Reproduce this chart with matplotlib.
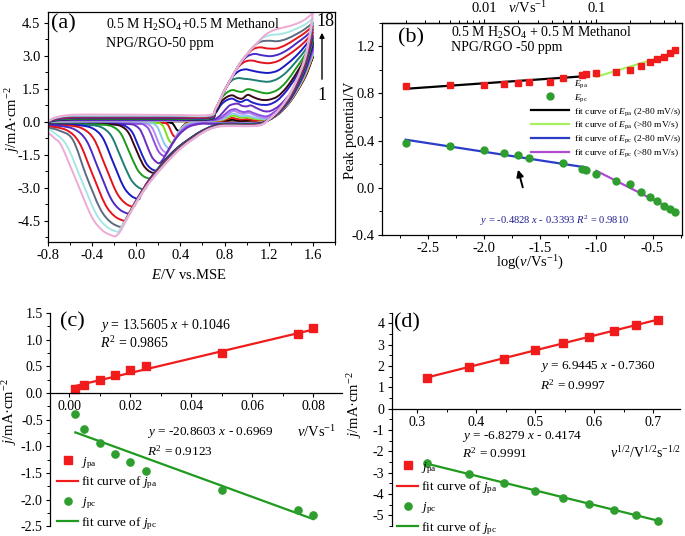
import numpy as np
import matplotlib
matplotlib.use("Agg")
import matplotlib.pyplot as plt
from matplotlib.path import Path
from matplotlib.patches import PathPatch
from matplotlib.ticker import MultipleLocator, FixedLocator, FixedFormatter, FormatStrFormatter

plt.rcParams.update({
    "font.family": ["Liberation Serif", "DejaVu Serif"],
    "mathtext.fontset": "custom",
    "mathtext.rm": "Liberation Serif",
    "mathtext.it": "Liberation Serif:italic",
    "mathtext.bf": "Liberation Serif:bold",
    "axes.unicode_minus": False,
    "axes.linewidth": 0.9,
    "xtick.direction": "out",
    "ytick.direction": "out",
    "xtick.labelsize": 10.5,
    "ytick.labelsize": 10.5,
    "xtick.major.size": 3.2, "ytick.major.size": 3.2,
    "xtick.minor.size": 2.0, "ytick.minor.size": 2.0,
    "xtick.major.width": 0.8, "ytick.major.width": 0.8,
    "xtick.minor.width": 0.7, "ytick.minor.width": 0.7,
    "xtick.major.pad": 2.0, "ytick.major.pad": 2.0,
    "xtick.minor.pad": 2.0, "ytick.minor.pad": 2.0,
})

# ---------------------------------------------------------------- data (a)
# CV loops, 18 scan rates, forward (-0.8 -> 1.6 V) and reverse (1.6 -> -0.8 V)
cv01_fwd = [(-0.8,-0.03),(-0.74,0.01),(-0.62,0.02),(-0.4,0.02),(0.3,0.02),(0.66,0.02),(0.78,0.03),(0.84,0.07),(0.87,0.09),(0.9,0.07),(0.95,0.05),(1.0,0.06),(1.05,0.04),(1.15,0.05),(1.2,0.12),(1.3,0.5),(1.4,1.1),(1.5,1.9),(1.6,2.95)]
cv01_rev = [(1.6,2.95),(1.55,2.25),(1.5,1.75),(1.4,0.95),(1.3,0.4),(1.2,0.08),(1.1,-0.02),(0.8,-0.03),(0.6,-0.03),(0.49,-0.03),(0.46,-0.06),(0.435,-0.15),(0.415,-0.26),(0.4,-0.37),(0.39,-0.42),(0.378,-0.40),(0.366,-0.35),(0.35,-0.225),(0.334,-0.10),(0.318,-0.05),(0.298,-0.034),(0.0,-0.03),(-0.6,-0.04),(-0.8,-0.06)]
cv02_fwd = [(-0.8,-0.03),(-0.74,0.02),(-0.62,0.03),(-0.4,0.03),(0.3,0.03),(0.66,0.03),(0.78,0.06),(0.84,0.14),(0.87,0.18),(0.9,0.14),(0.95,0.1),(1.0,0.12),(1.05,0.08),(1.15,0.07),(1.2,0.14),(1.3,0.52),(1.4,1.12),(1.5,1.93),(1.6,3.0)]
cv02_rev = [(1.6,3.0),(1.55,2.3),(1.5,1.78),(1.4,0.97),(1.3,0.41),(1.2,0.08),(1.1,-0.03),(0.8,-0.04),(0.6,-0.04),(0.49,-0.04),(0.451,-0.093),(0.4185,-0.238),(0.3925,-0.436),(0.373,-0.621),(0.36,-0.70),(0.345,-0.667),(0.33,-0.581),(0.31,-0.37),(0.29,-0.159),(0.27,-0.073),(0.245,-0.047),(0.0,-0.04),(-0.6,-0.05),(-0.8,-0.07)]
cv03_fwd = [(-0.8,-0.03),(-0.74,0.02),(-0.62,0.04),(-0.4,0.04),(0.3,0.04),(0.66,0.04),(0.78,0.09),(0.84,0.22),(0.88,0.28),(0.92,0.22),(0.96,0.18),(1.01,0.2),(1.06,0.14),(1.15,0.1),(1.2,0.16),(1.3,0.54),(1.4,1.14),(1.5,1.95),(1.6,3.05)]
cv03_rev = [(1.6,3.05),(1.55,2.36),(1.5,1.82),(1.4,0.99),(1.3,0.42),(1.2,0.08),(1.1,-0.04),(0.8,-0.05),(0.62,-0.05),(0.5,-0.05),(0.449,-0.124),(0.4065,-0.329),(0.3725,-0.608),(0.347,-0.868),(0.33,-0.98),(0.312,-0.934),(0.294,-0.813),(0.27,-0.515),(0.246,-0.217),(0.222,-0.097),(0.192,-0.059),(0.0,-0.05),(-0.6,-0.06),(-0.8,-0.08)]
cv04_fwd = [(-0.8,-0.03),(-0.74,0.03),(-0.62,0.05),(-0.4,0.05),(0.3,0.05),(0.66,0.05),(0.78,0.12),(0.84,0.3),(0.88,0.37),(0.92,0.3),(0.96,0.25),(1.01,0.28),(1.06,0.2),(1.15,0.13),(1.2,0.18),(1.3,0.56),(1.4,1.16),(1.5,1.98),(1.6,3.1)]
cv04_rev = [(1.6,3.1),(1.55,2.42),(1.5,1.86),(1.4,1.01),(1.3,0.43),(1.2,0.09),(1.1,-0.05),(0.8,-0.06),(0.62,-0.06),(0.51,-0.06),(0.447,-0.151),(0.3945,-0.402),(0.3525,-0.744),(0.321,-1.063),(0.30,-1.20),(0.2775,-1.143),(0.255,-0.995),(0.225,-0.63),(0.195,-0.265),(0.165,-0.117),(0.1275,-0.071),(-0.1,-0.06),(-0.6,-0.07),(-0.8,-0.09)]
cv05_fwd = [(-0.8,-0.03),(-0.74,0.04),(-0.62,0.06),(-0.4,0.06),(0.3,0.06),(0.66,0.06),(0.76,0.12),(0.82,0.3),(0.86,0.45),(0.89,0.49),(0.93,0.4),(0.97,0.36),(1.02,0.4),(1.07,0.3),(1.15,0.18),(1.2,0.22),(1.3,0.6),(1.4,1.2),(1.5,2.03),(1.6,3.2)]
cv05_rev = [(1.6,3.2),(1.55,2.48),(1.5,1.9),(1.4,1.03),(1.3,0.44),(1.2,0.09),(1.1,-0.06),(0.8,-0.07),(0.64,-0.07),(0.535,-0.07),(0.457,-0.176),(0.392,-0.469),(0.34,-0.868),(0.301,-1.24),(0.275,-1.40),(0.248,-1.334),(0.221,-1.161),(0.185,-0.735),(0.149,-0.309),(0.113,-0.137),(0.068,-0.083),(-0.2,-0.07),(-0.6,-0.08),(-0.8,-0.10)]
cv06_fwd = [(-0.8,-0.03),(-0.74,0.04),(-0.62,0.07),(-0.4,0.07),(0.3,0.07),(0.66,0.07),(0.75,0.14),(0.8,0.32),(0.85,0.52),(0.9,0.57),(0.94,0.48),(0.98,0.44),(1.02,0.48),(1.07,0.38),(1.15,0.26),(1.2,0.28),(1.3,0.64),(1.4,1.24),(1.5,2.08),(1.6,3.3)]
cv06_rev = [(1.6,3.3),(1.55,2.54),(1.5,1.94),(1.4,1.05),(1.3,0.45),(1.2,0.09),(1.1,-0.07),(0.8,-0.08),(0.66,-0.08),(0.565,-0.08),(0.472,-0.198),(0.3945,-0.521),(0.3325,-0.962),(0.286,-1.374),(0.255,-1.55),(0.225,-1.477),(0.195,-1.285),(0.155,-0.815),(0.115,-0.345),(0.075,-0.154),(0.025,-0.095),(-0.25,-0.08),(-0.6,-0.09),(-0.8,-0.11)]
cv07_fwd = [(-0.8,-0.03),(-0.74,0.05),(-0.62,0.09),(-0.4,0.09),(0.3,0.09),(0.66,0.09),(0.74,0.2),(0.79,0.45),(0.84,0.72),(0.88,0.8),(0.92,0.82),(0.96,0.72),(1.0,0.7),(1.04,0.74),(1.09,0.62),(1.16,0.48),(1.22,0.5),(1.3,0.75),(1.4,1.32),(1.5,2.15),(1.6,3.4)]
cv07_rev = [(1.6,3.4),(1.55,2.6),(1.5,1.98),(1.4,1.07),(1.3,0.46),(1.2,0.09),(1.1,-0.08),(0.8,-0.09),(0.68,-0.09),(0.59,-0.09),(0.476,-0.233),(0.381,-0.627),(0.305,-1.164),(0.248,-1.665),(0.21,-1.88),(0.174,-1.79),(0.138,-1.558),(0.09,-0.985),(0.042,-0.412),(-0.006,-0.18),(-0.066,-0.108),(-0.3,-0.09),(-0.6,-0.1),(-0.8,-0.12)]
cv08_fwd = [(-0.8,-0.02),(-0.74,0.06),(-0.62,0.1),(-0.4,0.11),(0.3,0.11),(0.66,0.11),(0.72,0.4),(0.77,0.78),(0.82,0.98),(0.87,1.05),(0.91,0.95),(0.95,0.9),(1.0,1.0),(1.05,0.88),(1.12,0.78),(1.2,0.78),(1.28,0.98),(1.36,1.4),(1.45,2.05),(1.53,2.75),(1.6,3.5)]
cv08_rev = [(1.6,3.5),(1.55,2.65),(1.5,2.0),(1.4,1.08),(1.3,0.46),(1.2,0.09),(1.1,-0.09),(0.8,-0.1),(0.7,-0.18),(0.58,-0.45),(0.48,-0.78),(0.38,-1.15),(0.285,-1.6),(0.235,-1.88),(0.2,-2.13),(0.175,-2.22),(0.13,-2.114),(0.085,-1.838),(0.025,-1.16),(-0.035,-0.482),(-0.095,-0.206),(-0.17,-0.121),(-0.4,-0.1),(-0.6,-0.11),(-0.8,-0.13)]
cv09_fwd = [(-0.8,-0.02),(-0.74,0.07),(-0.62,0.11),(-0.4,0.12),(0.3,0.12),(0.66,0.12),(0.72,0.45),(0.77,0.9),(0.82,1.12),(0.87,1.2),(0.92,1.08),(0.96,1.05),(1.01,1.22),(1.06,1.12),(1.13,1.0),(1.2,1.0),(1.28,1.15),(1.36,1.55),(1.45,2.2),(1.53,2.9),(1.6,3.6)]
cv09_rev = [(1.6,3.6),(1.55,2.72),(1.5,2.05),(1.4,1.1),(1.3,0.47),(1.2,0.09),(1.1,-0.09),(0.8,-0.1),(0.7,-0.19),(0.584,-0.45),(0.484,-0.78),(0.384,-1.15),(0.289,-1.6),(0.225,-1.95),(0.19,-2.22),(0.155,-2.32),(0.107,-2.209),(0.059,-1.92),(-0.005,-1.21),(-0.069,-0.50),(-0.133,-0.211),(-0.213,-0.122),(-0.4,-0.11),(-0.6,-0.11),(-0.8,-0.13)]
cv10_fwd = [(-0.8,-0.02),(-0.74,0.08),(-0.62,0.13),(-0.4,0.14),(0.3,0.14),(0.66,0.14),(0.72,0.52),(0.77,1.05),(0.82,1.32),(0.87,1.44),(0.92,1.38),(0.96,1.36),(1.01,1.48),(1.07,1.42),(1.14,1.32),(1.2,1.3),(1.28,1.45),(1.36,1.82),(1.45,2.45),(1.53,3.05),(1.6,3.7)]
cv10_rev = [(1.6,3.7),(1.55,2.78),(1.5,2.08),(1.4,1.12),(1.3,0.48),(1.2,0.09),(1.1,-0.1),(0.8,-0.11),(0.7,-0.2),(0.588,-0.45),(0.488,-0.78),(0.388,-1.15),(0.293,-1.6),(0.193,-2.15),(0.15,-2.45),(0.13,-2.55),(0.115,-2.58),(0.061,-2.457),(0.007,-2.135),(-0.065,-1.345),(-0.137,-0.555),(-0.209,-0.234),(-0.299,-0.135),(-0.5,-0.12),(-0.8,-0.14)]
cv11_fwd = [(-0.8,-0.02),(-0.74,0.09),(-0.62,0.15),(-0.4,0.16),(0.3,0.16),(0.66,0.16),(0.72,0.55),(0.8,1.4),(0.86,1.85),(0.92,1.98),(0.98,1.95),(1.04,1.92),(1.12,1.85),(1.2,1.82),(1.28,1.95),(1.36,2.25),(1.45,2.75),(1.53,3.25),(1.6,3.8)]
cv11_rev = [(1.6,3.8),(1.55,2.85),(1.5,2.12),(1.4,1.14),(1.3,0.49),(1.2,0.1),(1.1,-0.11),(0.8,-0.12),(0.7,-0.21),(0.592,-0.45),(0.492,-0.78),(0.392,-1.15),(0.297,-1.6),(0.197,-2.15),(0.13,-2.55),(0.095,-2.93),(0.07,-3.08),(0.007,-2.932),(-0.056,-2.547),(-0.14,-1.6),(-0.224,-0.653),(-0.308,-0.268),(-0.413,-0.15),(-0.6,-0.13),(-0.8,-0.15)]
cv12_fwd = [(-0.8,-0.01),(-0.74,0.1),(-0.62,0.17),(-0.4,0.18),(0.3,0.18),(0.66,0.18),(0.72,0.57),(0.8,1.42),(0.87,2.02),(0.93,2.3),(0.99,2.38),(1.05,2.32),(1.12,2.25),(1.2,2.22),(1.28,2.32),(1.36,2.6),(1.45,3.0),(1.53,3.45),(1.6,3.9)]
cv12_rev = [(1.6,3.9),(1.55,2.92),(1.5,2.16),(1.4,1.16),(1.3,0.5),(1.2,0.1),(1.1,-0.12),(0.8,-0.13),(0.7,-0.22),(0.596,-0.45),(0.496,-0.78),(0.396,-1.15),(0.301,-1.6),(0.201,-2.15),(0.101,-2.75),(0.06,-3.15),(0.035,-3.42),(0.02,-3.52),(-0.049,-3.35),(-0.118,-2.91),(-0.21,-1.825),(-0.302,-0.74),(-0.394,-0.30),(-0.509,-0.164),(-0.65,-0.14),(-0.8,-0.17)]
cv13_fwd = [(-0.8,-0.01),(-0.74,0.11),(-0.62,0.19),(-0.4,0.2),(0.3,0.2),(0.66,0.2),(0.72,0.58),(0.8,1.42),(0.87,2.05),(0.93,2.52),(0.99,2.74),(1.05,2.78),(1.12,2.7),(1.2,2.66),(1.28,2.75),(1.36,2.98),(1.45,3.3),(1.53,3.65),(1.6,4.05)]
cv13_rev = [(1.6,4.05),(1.55,3.0),(1.5,2.22),(1.4,1.19),(1.3,0.52),(1.2,0.1),(1.1,-0.13),(0.8,-0.14),(0.7,-0.23),(0.6,-0.45),(0.5,-0.78),(0.4,-1.15),(0.305,-1.6),(0.205,-2.15),(0.105,-2.75),(0.03,-3.33),(0.0,-3.68),(-0.03,-3.86),(-0.105,-3.674),(-0.18,-3.19),(-0.28,-2.0),(-0.38,-0.81),(-0.48,-0.326),(-0.605,-0.177),(-0.8,-0.2)]
cv14_fwd = [(-0.8,-0.01),(-0.74,0.12),(-0.62,0.21),(-0.4,0.22),(0.3,0.22),(0.66,0.22),(0.72,0.59),(0.8,1.42),(0.87,2.05),(0.93,2.56),(1.0,2.95),(1.07,3.08),(1.14,3.02),(1.22,2.98),(1.3,3.08),(1.38,3.3),(1.46,3.6),(1.54,3.9),(1.6,4.2)]
cv14_rev = [(1.6,4.2),(1.55,3.08),(1.5,2.28),(1.4,1.22),(1.3,0.54),(1.2,0.1),(1.1,-0.14),(0.8,-0.15),(0.7,-0.24),(0.604,-0.45),(0.504,-0.78),(0.404,-1.15),(0.309,-1.6),(0.209,-2.15),(0.109,-2.75),(0.014,-3.45),(-0.03,-3.85),(-0.055,-4.1),(-0.07,-4.18),(-0.151,-3.98),(-0.232,-3.455),(-0.34,-2.165),(-0.448,-0.875),(-0.556,-0.352),(-0.691,-0.19),(-0.8,-0.18)]
cv15_fwd = [(-0.8,0.0),(-0.74,0.14),(-0.62,0.23),(-0.4,0.24),(0.3,0.24),(0.66,0.24),(0.72,0.6),(0.8,1.42),(0.87,2.05),(0.93,2.58),(1.0,3.03),(1.06,3.3),(1.12,3.38),(1.19,3.33),(1.27,3.33),(1.35,3.48),(1.44,3.75),(1.53,4.05),(1.6,4.35)]
cv15_rev = [(1.6,4.35),(1.55,3.15),(1.5,2.33),(1.4,1.25),(1.3,0.55),(1.2,0.1),(1.1,-0.15),(0.8,-0.16),(0.7,-0.25),(0.608,-0.45),(0.508,-0.78),(0.408,-1.15),(0.313,-1.6),(0.213,-2.15),(0.113,-2.75),(0.018,-3.45),(-0.06,-4.11),(-0.09,-4.4),(-0.11,-4.5),(-0.197,-4.283),(-0.284,-3.719),(-0.40,-2.33),(-0.516,-0.941),(-0.632,-0.377),(-0.8,-0.2)]
cv16_fwd = [(-0.8,0.0),(-0.74,0.15),(-0.62,0.25),(-0.4,0.26),(0.3,0.26),(0.66,0.26),(0.72,0.6),(0.8,1.42),(0.87,2.05),(0.93,2.58),(1.0,3.05),(1.07,3.45),(1.13,3.64),(1.2,3.68),(1.28,3.66),(1.36,3.76),(1.45,3.98),(1.53,4.22),(1.6,4.5)]
cv16_rev = [(1.6,4.5),(1.55,3.22),(1.5,2.38),(1.4,1.28),(1.3,0.57),(1.2,0.1),(1.1,-0.16),(0.8,-0.17),(0.7,-0.26),(0.612,-0.45),(0.512,-0.78),(0.412,-1.15),(0.317,-1.6),(0.217,-2.15),(0.117,-2.75),(0.022,-3.45),(-0.078,-4.3),(-0.115,-4.62),(-0.14,-4.78),(-0.233,-4.55),(-0.326,-3.95),(-0.45,-2.475),(-0.574,-0.815),(-0.698,-0.40),(-0.8,-0.27)]
cv17_fwd = [(-0.8,0.0),(-0.74,0.16),(-0.62,0.27),(-0.4,0.28),(0.3,0.28),(0.66,0.28),(0.72,0.6),(0.8,1.42),(0.87,2.05),(0.93,2.58),(1.0,3.05),(1.08,3.5),(1.15,3.82),(1.22,3.94),(1.3,3.98),(1.38,4.08),(1.46,4.25),(1.54,4.45),(1.6,4.7)]
cv17_rev = [(1.6,4.7),(1.55,3.3),(1.5,2.44),(1.4,1.32),(1.3,0.58),(1.2,0.1),(1.1,-0.17),(0.8,-0.18),(0.7,-0.27),(0.616,-0.45),(0.516,-0.78),(0.416,-1.15),(0.321,-1.6),(0.221,-2.15),(0.121,-2.75),(0.026,-3.45),(-0.074,-4.3),(-0.125,-4.72),(-0.15,-4.92),(-0.17,-5.0),(-0.269,-4.759),(-0.368,-4.132),(-0.50,-2.59),(-0.632,-1.048),(-0.764,-0.42),(-0.8,-0.36)]
cv18_fwd = [(-0.8,0.0),(-0.74,0.18),(-0.62,0.3),(-0.4,0.33),(0.3,0.31),(0.66,0.31),(0.72,0.6),(0.8,1.42),(0.87,2.05),(0.93,2.58),(1.0,3.05),(1.08,3.5),(1.17,3.95),(1.25,4.17),(1.35,4.3),(1.45,4.45),(1.53,4.65),(1.6,4.95)]
cv18_rev = [(1.6,4.95),(1.55,3.4),(1.5,2.5),(1.4,1.36),(1.3,0.6),(1.2,0.1),(1.1,-0.18),(0.8,-0.2),(0.7,-0.28),(0.62,-0.45),(0.52,-0.78),(0.42,-1.15),(0.325,-1.6),(0.225,-2.15),(0.125,-2.75),(0.03,-3.45),(-0.07,-4.3),(-0.14,-4.95),(-0.175,-5.15),(-0.2,-5.2),(-0.302,-4.95),(-0.404,-4.3),(-0.54,-2.7),(-0.676,-1.1),(-0.74,-0.75),(-0.8,-0.47)]

cv_forward = [cv01_fwd, cv02_fwd, cv03_fwd, cv04_fwd, cv05_fwd, cv06_fwd, cv07_fwd, cv08_fwd, cv09_fwd,
              cv10_fwd, cv11_fwd, cv12_fwd, cv13_fwd, cv14_fwd, cv15_fwd, cv16_fwd, cv17_fwd, cv18_fwd]
cv_reverse = [cv01_rev, cv02_rev, cv03_rev, cv04_rev, cv05_rev, cv06_rev, cv07_rev, cv08_rev, cv09_rev,
              cv10_rev, cv11_rev, cv12_rev, cv13_rev, cv14_rev, cv15_rev, cv16_rev, cv17_rev, cv18_rev]
cv_colors = ["#000000", "#e8141c", "#7ce21a", "#8cc8f0", "#b48cf0", "#9050e0", "#6a2ec0", "#2020c8", "#3a0818",
             "#1c9a1c", "#1f7f74", "#1a1ac4", "#e0141c", "#4a2cc4", "#e8141c", "#5c6c80", "#a6e6e6", "#eeaad6"]

# ---------------------------------------------------------------- data (b)
scan_rate = [0.002, 0.005, 0.01, 0.015, 0.02, 0.025, 0.05, 0.075, 0.08,
             0.1, 0.15, 0.2, 0.25, 0.3, 0.35, 0.4, 0.45, 0.5]
E_pa = [0.862, 0.868, 0.876, 0.88, 0.89, 0.90, 0.935, 0.958, 0.965,
        0.975, 0.985, 1.003, 1.034, 1.07, 1.093, 1.107, 1.144, 1.17]
E_pc = [0.383, 0.352, 0.318, 0.296, 0.276, 0.256, 0.214, 0.163, 0.149,
        0.121, 0.056, 0.031, -0.039, -0.076, -0.113, -0.155, -0.180, -0.208]

# ---------------------------------------------------------------- data (c)
v_low = [0.002, 0.005, 0.01, 0.015, 0.02, 0.025, 0.05, 0.075, 0.08]
j_pa_low = [0.075, 0.155, 0.25, 0.34, 0.44, 0.505, 0.745, 1.10, 1.22]
j_pc_low = [-0.40, -0.68, -0.93, -1.15, -1.29, -1.46, -1.81, -2.19, -2.29]
fit_pa_low = [13.5605, 0.1046]
fit_pc_low = [-20.8603, -0.6969]

# ---------------------------------------------------------------- data (d)
v_high = [0.1, 0.15, 0.2, 0.25, 0.3, 0.35, 0.4, 0.45, 0.5]
j_pa_high = [1.46, 1.95, 2.35, 2.75, 3.07, 3.37, 3.66, 3.92, 4.18]
j_pc_high = [-2.56, -3.05, -3.50, -3.86, -4.17, -4.48, -4.74, -4.98, -5.25]
fit_pa_high = [6.9445, -0.7360]
fit_pc_high = [-6.8279, -0.4174]

# ---------------------------------------------------------------- layout
W, H = 685, 536
fig = plt.figure(figsize=(W / 100, H / 100), dpi=100)
fig.patch.set_facecolor("white")


def rect(l, t, r, b):
    return [l / W, 1 - b / H, (r - l) / W, (b - t) / H]


def ftext(x, y, s, **kw):
    kw.setdefault("va", "center")
    fig.text(x / W, 1 - y / H, s, **kw)


def smooth(pts):
    P = np.asarray(pts, float)
    n = len(P)
    verts = [P[0]]
    codes = [Path.MOVETO]
    for i in range(n - 1):
        p0 = P[i - 1] if i > 0 else P[i]
        p1, p2 = P[i], P[i + 1]
        p3 = P[i + 2] if i + 2 < n else P[i + 1]
        verts += [p1 + (p2 - p0) / 6.0, p2 - (p3 - p1) / 6.0, p2]
        codes += [Path.CURVE4] * 3
    return verts, codes


RED = "#f01c1c"
GREEN = "#2e9e2e"

# ================================================================ panel (a)
ax = fig.add_axes(rect(47.8, 11.7, 335, 241.7))
for fwd, rev, col in zip(cv_forward, cv_reverse, cv_colors):
    vf, cf = smooth(fwd)
    vr, cr = smooth(rev)
    verts = vf + vr[1:] + [np.asarray(fwd[0], float)]
    codes = cf + cr[1:] + [Path.LINETO]
    ax.add_patch(PathPatch(Path(verts, codes), fill=False, edgecolor=col, lw=1.4,
                           joinstyle="round", capstyle="round"))
ax.set_xlim(-0.8, 1.8)
ax.set_ylim(-5.45, 5.0)
ax.xaxis.set_major_locator(MultipleLocator(0.4))
ax.xaxis.set_minor_locator(MultipleLocator(0.2))
ax.yaxis.set_major_locator(FixedLocator([-4.5, -3.0, -1.5, 0.0, 1.5, 3.0, 4.5]))
ax.yaxis.set_minor_locator(MultipleLocator(0.75))
ax.xaxis.set_major_formatter(FormatStrFormatter("%.1f"))
ax.yaxis.set_major_formatter(FormatStrFormatter("%.1f"))
ax.tick_params(which="both", top=False, right=False)

ftext(51, 24, "(a)", fontsize=16)
ftext(106, 25, r"0.5 M H$_2$SO$_4$+0.5 M Methanol", fontsize=10)
ftext(106, 43, "NPG/RGO-50 ppm", fontsize=10)
ftext(325, 21, "18", fontsize=13, ha="center")
ftext(322, 96, "1", fontsize=13, ha="center")
ax.annotate("", xy=(322 / W, 1 - 30 / H), xytext=(322 / W, 1 - 82 / H),
            xycoords="figure fraction", textcoords="figure fraction",
            arrowprops=dict(arrowstyle="-|>", color="black", lw=1.0, mutation_scale=7))
ftext(189, 275, r"$E$/V vs.MSE", fontsize=10.5, ha="center")
ftext(13, 120, r"$j$/mA·cm$^{-2}$", fontsize=10.5, ha="center", rotation=90)

# ================================================================ panel (b)
ax = fig.add_axes(rect(382, 22.7, 681.7, 235))
logv = np.log10(scan_rate)
lo = slice(0, 9)
hi = slice(9, 18)
fit_cols = ["#000000", "#a8f060", "#2a3cc8", "#b04ad0"]
labels_fit = [r"fit curve of $E_{\rm pa}$ (2-80 mV/s)", r"fit curve of $E_{\rm pa}$ (>80 mV/s)",
              r"fit curve of $E_{\rm pc}$ (2-80 mV/s)", r"fit curve of $E_{\rm pc}$ (>80 mV/s)"]
fit_handles = []
for (series, sl), col, lab in zip([(E_pa, lo), (E_pa, hi), (E_pc, lo), (E_pc, hi)], fit_cols, labels_fit):
    xs = logv[sl]
    ys = np.asarray(series)[sl]
    k, b0 = np.polyfit(xs, ys, 1)
    xx = np.array([xs.min(), xs.max()])
    h, = ax.plot(xx, k * xx + b0, color=col, lw=1.6, label=lab, zorder=2)
    fit_handles.append(h)
h_pa, = ax.plot(logv, E_pa, ls="none", marker="s", ms=5, color=RED, label=r"$E_{\rm pa}$", zorder=3)
h_pc, = ax.plot(logv, E_pc, ls="none", marker="o", ms=5, color=GREEN, label=r"$E_{\rm pc}$", zorder=3)
ax.set_xlim(-2.91, -0.24)
ax.set_ylim(-0.4, 1.4)
ax.xaxis.set_major_locator(FixedLocator([-2.5, -2.0, -1.5, -1.0, -0.5]))
ax.xaxis.set_minor_locator(MultipleLocator(0.25))
ax.yaxis.set_major_locator(FixedLocator([-0.4, 0.0, 0.4, 0.8, 1.2]))
ax.yaxis.set_minor_locator(MultipleLocator(0.2))
ax.xaxis.set_major_formatter(FormatStrFormatter("%.1f"))
ax.yaxis.set_major_formatter(FormatStrFormatter("%.1f"))
ax.tick_params(which="both", top=False, right=False)
sec = ax.secondary_xaxis("top", functions=(lambda x: 10.0 ** x, lambda v: np.log10(np.clip(v, 1e-12, None))))
sec.xaxis.set_major_locator(FixedLocator([0.01, 0.1]))
sec.xaxis.set_major_formatter(FixedFormatter(["0.01", "0.1"]))
sec.xaxis.set_minor_locator(FixedLocator([0.002, 0.003, 0.004, 0.005, 0.006, 0.007, 0.008, 0.009,
                                          0.02, 0.03, 0.04, 0.05, 0.06, 0.07, 0.08, 0.09,
                                          0.2, 0.3, 0.4, 0.5]))
sec.tick_params(which="both", direction="out")
ax.legend(handles=[h_pa, h_pc] + fit_handles, loc="upper left",
          bbox_to_anchor=(531 / W, 1 - 78 / H), bbox_transform=fig.transFigure,
          frameon=False, fontsize=6.8, handlelength=4.0, handletextpad=0.5,
          labelspacing=0.22, borderpad=0, borderaxespad=0, numpoints=1)
ftext(398, 38, "(b)", fontsize=16)
ftext(451, 32.5, r"0.5 M H$_2$SO$_4$ + 0.5 M Methanol", fontsize=10)
ftext(451, 48, "NPG/RGO -50 ppm", fontsize=10)
ftext(528, 8, r"$v$/Vs$^{-1}$", fontsize=10.5, ha="center")
ftext(480, 221, r"$y$ = -0.4828 $x$ - 0.3393 $R^2$ = 0.9810", fontsize=7.6, color="#1c1c8c")
ax.annotate("", xy=(517.3 / W, 1 - 167 / H), xytext=(523.5 / W, 1 - 190 / H),
            xycoords="figure fraction", textcoords="figure fraction",
            arrowprops=dict(arrowstyle="-|>", color="black", lw=1.4, mutation_scale=10))
ftext(350, 130, "Peak potential/V", fontsize=10.5, ha="center", rotation=90)
ftext(530, 263, r"log($v$/Vs$^{-1}$)", fontsize=10.5, ha="center")


def style_zero_axes(ax):
    ax.spines["top"].set_visible(False)
    ax.spines["right"].set_visible(False)
    ax.spines["bottom"].set_position(("data", 0.0))
    ax.tick_params(which="both", top=False, right=False, labelsize=10)


# ================================================================ panel (c)
ax = fig.add_axes(rect(50, 313, 341.7, 526.3))
vl = np.asarray(v_low)
xx = np.array([vl.min(), vl.max()])
ln_pa, = ax.plot(xx, fit_pa_low[0] * xx + fit_pa_low[1], color=RED, lw=1.6, label=r"fit curve of $j_{\rm pa}$")
ln_pc, = ax.plot(xx, fit_pc_low[0] * xx + fit_pc_low[1], color="#1f9a1f", lw=1.6, label=r"fit curve of $j_{\rm pc}$")
mk_pa, = ax.plot(vl, j_pa_low, ls="none", marker="s", ms=5.2, color=RED, label=r"$j_{\rm pa}$")
mk_pc, = ax.plot(vl, j_pc_low, ls="none", marker="o", ms=5.2, color=GREEN, label=r"$j_{\rm pc}$")
ax.set_xlim(-0.0063, 0.0893)
ax.set_ylim(-2.5, 1.5)
ax.xaxis.set_major_locator(FixedLocator([0.0, 0.02, 0.04, 0.06, 0.08]))
ax.xaxis.set_minor_locator(MultipleLocator(0.01))
ax.yaxis.set_major_locator(MultipleLocator(0.5))
ax.yaxis.set_minor_locator(MultipleLocator(0.25))
ax.xaxis.set_major_formatter(FormatStrFormatter("%.2f"))
ax.yaxis.set_major_formatter(FormatStrFormatter("%.1f"))
style_zero_axes(ax)
ax.legend(handles=[mk_pa, ln_pa, mk_pc, ln_pc], loc="upper left",
          bbox_to_anchor=(57 / W, 1 - 455 / H), bbox_transform=fig.transFigure,
          frameon=False, fontsize=9.5, handlelength=1.6, handletextpad=0.25,
          labelspacing=0.3, borderpad=0, borderaxespad=0, numpoints=1)
ftext(60, 322, "(c)", fontsize=16)
ftext(100, 325, r"$y$ = 13.5605 $x$ + 0.1046", fontsize=10)
ftext(100, 343, r"$R^2$ = 0.9865", fontsize=10)
ftext(147, 433, r"$y$ = -20.8603 $x$ - 0.6969", fontsize=9.5)
ftext(147, 451, r"$R^2$ = 0.9123", fontsize=9.5)
ftext(297, 432, r"$v$/Vs$^{-1}$", fontsize=10.5)
ftext(10, 412, r"$j$/mA·cm$^{-2}$", fontsize=10.5, ha="center", rotation=90)

# ================================================================ panel (d)
ax = fig.add_axes(rect(391.7, 312.7, 680, 526))
vs = np.sqrt(v_high)
xx = np.array([vs.min(), vs.max()])
ln_pa, = ax.plot(xx, fit_pa_high[0] * xx + fit_pa_high[1], color=RED, lw=1.6, label=r"fit curve of $j_{\rm pa}$")
ln_pc, = ax.plot(xx, fit_pc_high[0] * xx + fit_pc_high[1], color="#1f9a1f", lw=1.6, label=r"fit curve of $j_{\rm pc}$")
mk_pa, = ax.plot(vs, j_pa_high, ls="none", marker="s", ms=5.2, color=RED, label=r"$j_{\rm pa}$")
mk_pc, = ax.plot(vs, j_pc_high, ls="none", marker="o", ms=5.2, color=GREEN, label=r"$j_{\rm pc}$")
ax.set_xlim(0.257, 0.745)
ax.set_ylim(-5.5, 4.5)
ax.xaxis.set_major_locator(FixedLocator([0.3, 0.4, 0.5, 0.6, 0.7]))
ax.xaxis.set_minor_locator(MultipleLocator(0.05))
ax.yaxis.set_major_locator(MultipleLocator(1))
ax.yaxis.set_minor_locator(MultipleLocator(0.5))
ax.xaxis.set_major_formatter(FormatStrFormatter("%.1f"))
ax.yaxis.set_major_formatter(FormatStrFormatter("%d"))
style_zero_axes(ax)
ax.legend(handles=[mk_pa, ln_pa, mk_pc, ln_pc], loc="upper left",
          bbox_to_anchor=(397 / W, 1 - 460 / H), bbox_transform=fig.transFigure,
          frameon=False, fontsize=9.5, handlelength=1.6, handletextpad=0.25,
          labelspacing=0.3, borderpad=0, borderaxespad=0, numpoints=1)
ftext(394, 323, "(d)", fontsize=16)
ftext(540, 367, r"$y$ = 6.9445 $x$ - 0.7360", fontsize=9.5)
ftext(540, 385, r"$R^2$ = 0.9997", fontsize=9.5)
ftext(462, 436, r"$y$ = -6.8279 $x$ - 0.4174", fontsize=9.5)
ftext(462, 453, r"$R^2$ = 0.9991", fontsize=9.5)
ftext(610, 453, r"$v^{1/2}$/V$^{1/2}$s$^{-1/2}$", fontsize=10)
ftext(355, 405, r"$j$/mA·cm$^{-2}$", fontsize=10.5, ha="center", rotation=90)

fig.savefig("out.png", dpi=100, facecolor="white")
